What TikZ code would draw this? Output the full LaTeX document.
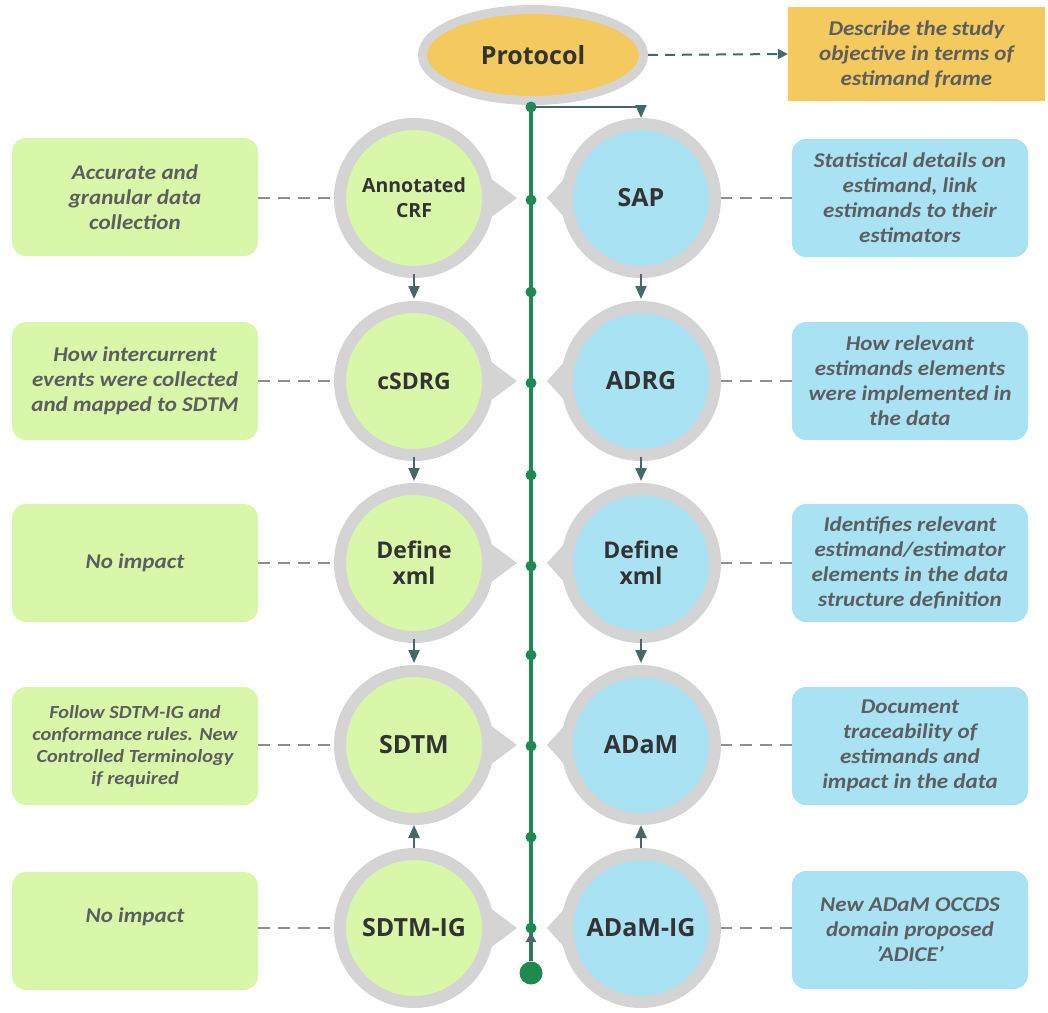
\documentclass[tikz,border=0pt]{standalone}
\usepackage{fontspec}
\setmainfont{Carlito}[FakeStretch=1.1]
\newfontfamily\labfont{Open Sans}
\usetikzlibrary{arrows.meta,calc,backgrounds,shapes.geometric}
\definecolor{lgreen}{HTML}{D9F7A8}
\definecolor{lblue}{HTML}{A9E2F3}
\definecolor{ringgray}{HTML}{D4D4D4}
\definecolor{ygold}{HTML}{F4C95D}
\definecolor{gline}{HTML}{1F8A4F}
\definecolor{teal}{HTML}{47686A}
\definecolor{txtdark}{HTML}{333333}
\definecolor{boxtxt}{HTML}{5C5E60}
\definecolor{dashgray}{HTML}{8E8E8E}
\begin{document}
\begin{tikzpicture}[x=1pt,y=-1pt,
  circ/.style={circle, draw=ringgray, line width=12pt, minimum size=148pt, inner sep=0pt,
    font=\labfont\bfseries\fontsize{25}{27}\selectfont, text=txtdark, align=center},
  gc/.style={circ, fill=lgreen},
  bc/.style={circ, fill=lblue},
  boxbase/.style={rounded corners=14pt, minimum height=118pt, inner sep=2pt,
    font=\bfseries\itshape\fontsize{21}{25}\selectfont, text=boxtxt, align=center},
  gbox/.style={boxbase, fill=lgreen, minimum width=246pt},
  bbox/.style={boxbase, fill=lblue, minimum width=236pt},
  dashline/.style={draw=dashgray, line width=1.5pt, dash pattern=on 12pt off 8pt},
  arr/.style={draw=teal, line width=2.2pt, -{Triangle[length=13pt,width=11pt]}},
  dotnode/.style={circle, fill=gline, inner sep=0pt, minimum size=11pt},
  ptr/.style={fill=ringgray}
]
\useasboundingbox (0,0) rectangle (1048,1012);

% Protocol and its description
\node[ellipse, draw=ringgray, line width=9pt, fill=ygold, minimum width=221pt, minimum height=91pt,
  font=\labfont\bfseries\fontsize{25}{28}\selectfont, text=txtdark] (P) at (533,55) {Protocol};
\node[fill=ygold, minimum width=257pt, minimum height=94pt, inner sep=2pt,
  font=\bfseries\itshape\fontsize{21}{25}\selectfont, text=boxtxt, align=center] (PD) at (916.5,54)
  {Describe the study\\objective in terms of\\estimand frame};
\draw[arr, line width=2pt, -{Triangle[length=10pt,width=10pt]}, dash pattern=on 10pt off 7pt] (P.east) -- (PD.west);

% circles
\node[gc, font=\labfont\bfseries\fontsize{19.5}{25}\selectfont] (L1) at (414,198) {Annotated\\CRF};
\node[gc, font=\labfont\bfseries\fontsize{23}{25}\selectfont] (L2) at (414,381) {cSDRG};
\node[gc, font=\labfont\bfseries\fontsize{23}{26}\selectfont] (L3) at (414,563) {Define\\xml};
\node[gc] (L4) at (414,745) {SDTM};
\node[gc] (L5) at (414,928) {SDTM-IG};
\node[bc] (R1) at (641,198) {SAP};
\node[bc] (R2) at (641,381) {ADRG};
\node[bc, font=\labfont\bfseries\fontsize{23}{26}\selectfont] (R3) at (641,563) {Define\\xml};
\node[bc] (R4) at (641,745) {ADaM};
\node[bc] (R5) at (641,928) {ADaM-IG};

% pointers
\begin{scope}[on background layer]
\foreach \n in {L1,L2,L3,L4,L5}{
  \fill[ptr] ($(\n.center)+(76,-20)$) -- ($(\n.center)+(103,0)$) -- ($(\n.center)+(76,20)$) -- cycle;}
\foreach \n in {R1,R2,R3,R4,R5}{
  \fill[ptr] ($(\n.center)+(-76,-20)$) -- ($(\n.center)+(-94,0)$) -- ($(\n.center)+(-76,20)$) -- cycle;}
\end{scope}

% side boxes
\node[gbox] (LB1) at (135,197) {Accurate and\\granular data\\collection};
\node[gbox] (LB2) at (135,381) {How intercurrent\\events were collected\\and mapped to SDTM};
\node[gbox] (LB3) at (135,563) {No impact};
\node[gbox, font=\bfseries\itshape\fontsize{18.5}{22}\selectfont] (LB4) at (135,746) {Follow SDTM-IG and\\conformance rules. New\\Controlled Terminology\\if required};
\node[gbox] (LB5) at (135,931) {No impact\\[6pt]\mbox{}};
\node[bbox] (RB1) at (910,198) {Statistical details on\\estimand, link\\estimands to their\\estimators};
\node[bbox] (RB2) at (910,381) {How relevant\\estimands elements\\were implemented in\\the data};
\node[bbox] (RB3) at (910,563) {Identifies relevant\\estimand/estimator\\elements in the data\\structure definition};
\node[bbox] (RB4) at (910,746) {Document\\traceability of\\estimands and\\impact in the data};
\node[bbox] (RB5) at (910,930) {New ADaM OCCDS\\domain proposed\\'ADICE'};

% dashed connectors
\foreach \i in {1,...,5}{
  \draw[dashline] (L\i.west -| LB\i.east) -- (L\i.west);
  \draw[dashline] (R\i.east -| RB\i.west) -- (R\i.east);}

% vertical green line and dots
\node[circle, fill=gline, inner sep=0pt, minimum size=23pt] (big) at (531,973) {};
\draw[draw=gline, line width=3.5pt] (P.south -| big) -- (big);
\draw[arr, line width=2pt, -{Triangle[length=10pt,width=10pt]}] (big.north) -- (531,932);
\foreach \k/\yy in {1/107,2/200,3/292,4/383,5/475,6/566,7/655,8/746,9/837,10/928}{
  \node[dotnode] (d\k) at (531,\yy) {};}

% branch to SAP
\draw[arr] (d1.center) -| (R1.north);

% flow arrows
\foreach \a/\b in {L1/L2,L2/L3,L3/L4,R1/R2,R2/R3,R3/R4}{
  \draw[arr] ([yshift=4pt]\a.south) -- ([yshift=2pt]\b.north);}
\foreach \a/\b in {L5/L4,R5/R4}{
  \draw[arr] (\a.north) -- (\b.south);}
\end{tikzpicture}
\end{document}
